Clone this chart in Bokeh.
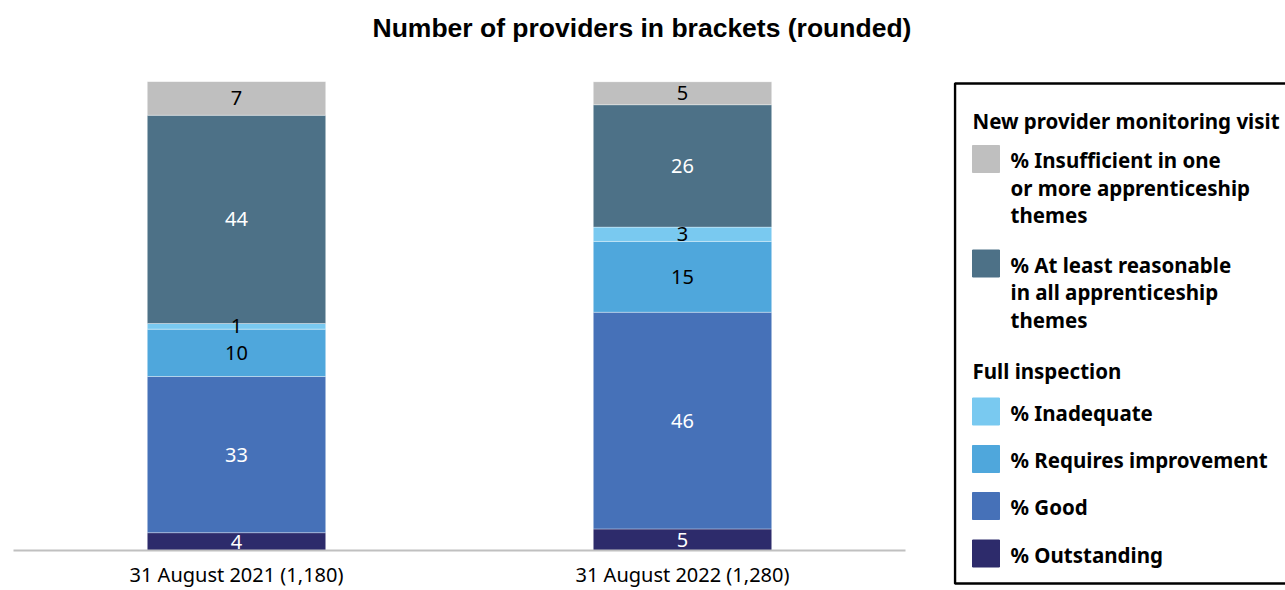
from bokeh.plotting import figure
from bokeh.models import ColumnDataSource, FactorRange, Range1d, Title
from bokeh.layouts import row
from bokeh.embed import file_html
from bokeh.resources import INLINE
from bokeh.core.properties import value

# ---------------- data ----------------
categories = ["31 August 2021 (1,180)", "31 August 2022 (1,280)"]
outstanding = [3.8, 4.6]
good = [33.3, 46.2]
requires_improvement = [10.1, 15.1]
inadequate = [1.2, 3.05]
at_least_reasonable = [44.4, 26.1]
insufficient = [7.2, 4.9]

keys = ["outstanding", "good", "requires_improvement", "inadequate",
        "at_least_reasonable", "insufficient"]
series_names = ["% Outstanding", "% Good", "% Requires improvement", "% Inadequate",
                "% At least reasonable\nin all apprenticeship\nthemes",
                "% Insufficient in one\nor more apprenticeship\nthemes"]
colors = ["#2d2b6b", "#4671b8", "#4fa7dc", "#79c9f0", "#4d7187", "#bfbfbf"]
label_colors = ["white", "white", "black", "black", "white", "black"]
group_headings = ["New provider monitoring visit", "Full inspection"]

title_text = "Number of providers in brackets (rounded)"

FONT = "Noto Sans"

# ---------------- main chart ----------------
data = dict(cat=categories, outstanding=outstanding, good=good,
            requires_improvement=requires_improvement, inadequate=inadequate,
            at_least_reasonable=at_least_reasonable, insufficient=insufficient)
source = ColumnDataSource(data)

p = figure(x_range=FactorRange(*categories), y_range=Range1d(0, 100),
           width=953, height=590, output_backend="svg", toolbar_location=None,
           min_border_left=13, min_border_right=48, min_border_top=81,
           min_border_bottom=40, y_axis_location=None)
p.frame_align = False
# spacer between frame and title, then the title itself
p.add_layout(Title(text=" ", text_font_size="32.5px", standoff=0), "above")
p.add_layout(Title(text=title_text, align="left", offset=359, standoff=2,
                   text_font="Liberation Sans", text_font_size="26.5px",
                   text_font_style="bold", text_color="black"), "above")

p.vbar_stack(keys, x="cat", width=0.4, color=colors, line_color="white",
             line_alpha=0.35, line_width=1, source=source)

# segment labels at segment mid-points
lx, ly, lt, lc = [], [], [], []
for i, cat in enumerate(categories):
    base = 0.0
    for k, col in zip(keys, label_colors):
        v = data[k][i]
        lx.append(cat)
        ly.append(base + v / 2)
        lt.append(f"{v:.0f}")
        lc.append(col)
        base += v
p.text(x=lx, y=ly, text=lt, text_color=lc, text_align="center",
       text_baseline="middle", text_font=value(FONT), text_font_size="20px")

p.xgrid.visible = False
p.ygrid.visible = False
p.outline_line_color = None
p.xaxis.axis_line_color = "#c0c0c0"
p.xaxis.axis_line_width = 2
p.xaxis.major_tick_line_color = None
p.xaxis.minor_tick_line_color = None
p.xaxis.major_tick_out = 0
p.xaxis.major_tick_in = 0
p.xaxis.major_label_text_font = FONT
p.xaxis.major_label_text_font_size = "20px"
p.xaxis.major_label_text_color = "black"
p.xaxis.major_label_standoff = 10

# ---------------- legend panel ----------------
leg = figure(width=332, height=590, x_range=Range1d(953, 1285),
             y_range=Range1d(590, 0), output_backend="svg",
             toolbar_location=None, min_border=0, x_axis_location=None,
             y_axis_location=None)
leg.frame_align = False
leg.grid.visible = False
leg.outline_line_color = None

leg.quad(left=954.5, right=1300, top=83, bottom=583, fill_color=None,
         line_color="black", line_width=2.5)

leg.text(x=[972, 972], y=[120, 370], text=group_headings, text_color="black",
         text_baseline="middle", text_font=value(FONT), text_font_size="20.5px",
         text_font_style="bold")

order = [5, 4, 3, 2, 1, 0]  # legend order top to bottom
sw_y = [158.5, 263, 411, 458.5, 505.5, 553]
leg.rect(x=[985.5] * 6, y=sw_y, width=27, height=27,
         color=[colors[i] for i in order])

tx, ty, tt = [], [], []
for yy, i in zip(sw_y, order):
    for j, line in enumerate(series_names[i].split("\n")):
        tx.append(1010)
        ty.append(yy + 1 + j * 27.5)
        tt.append(line)
leg.text(x=tx, y=ty, text=tt, text_color="black", text_baseline="middle",
         text_font=value(FONT), text_font_size="20.5px", text_font_style="bold")

layout = row(p, leg, spacing=0)
open("out.html", "w").write(file_html(layout, INLINE))
